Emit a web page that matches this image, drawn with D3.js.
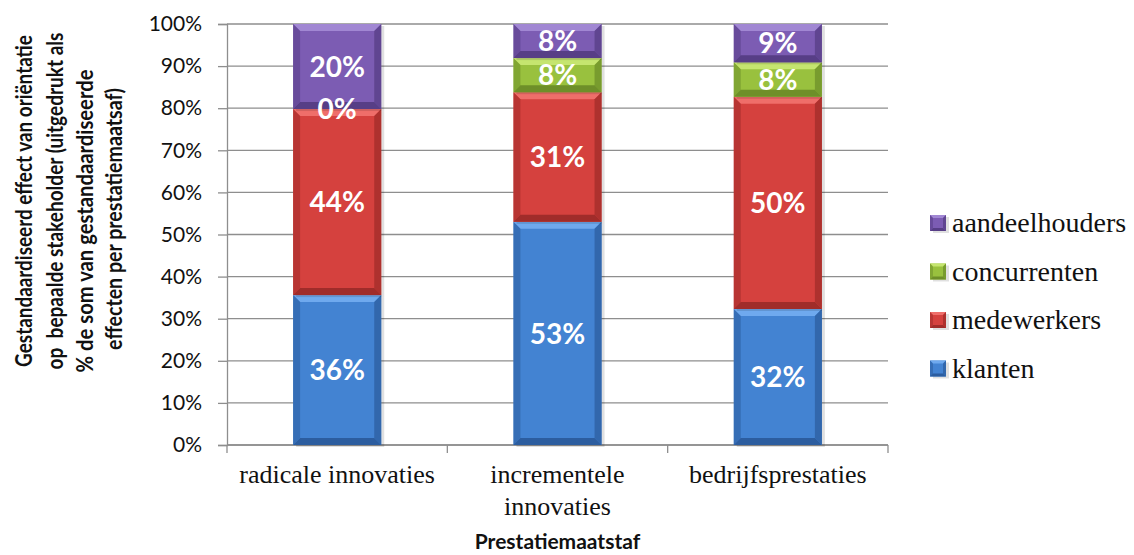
<!DOCTYPE html>
<html>
<head>
<meta charset="utf-8">
<script src="https://cdn.jsdelivr.net/npm/d3@7"></script>
<style>
  html, body { margin: 0; padding: 0; background: #fff; }
  svg { display: block; }
  .serif { font-family: "Liberation Serif", Tinos, "Times New Roman", "DejaVu Serif", serif; }
  .sans { font-family: Lato, "Open Sans", sans-serif; }
</style>
</head>
<body>
<div id="chart"></div>
<script>
// chart data
const categories = ["radicale innovaties", "incrementele innovaties", "bedrijfsprestaties"];
const categoryLines = [["radicale innovaties"], ["incrementele", "innovaties"], ["bedrijfsprestaties"]];
const seriesNames = ["klanten", "medewerkers", "concurrenten", "aandeelhouders"];
const klanten = [35.6, 53.0, 32.3];
const medewerkers = [44.2, 30.8, 50.4];
const concurrenten = [0, 8.1, 8.2];
const aandeelhouders = [20.2, 8.1, 9.1];
const yTicks = [0, 10, 20, 30, 40, 50, 60, 70, 80, 90, 100];
const yTitleLines = [
  "Gestandaardiseerd effect van oriëntatie",
  "op  bepaalde stakeholder (uitgedrukt als",
  "% de som van gestandaardiseerde",
  "effecten per prestatiemaatsaf)"
];
const xTitle = "Prestatiemaatstaf";

// colours per series: face, light bevel, dark bevel
const colors = {
  klanten:        { face: "#4383d2", light: "#6fa9ee", dark: "#2c5d9f" },
  medewerkers:    { face: "#d5413e", light: "#ef6e6a", dark: "#a02c2a" },
  concurrenten:   { face: "#99c13e", light: "#c5e56f", dark: "#6e8f29" },
  aandeelhouders: { face: "#7c5cb3", light: "#a187d3", dark: "#573e86" }
};

const W = 1134, H = 555;
const plot = { left: 227, right: 888, top: 24, bottom: 445 };

const svg = d3.select("#chart").append("svg")
  .attr("width", W).attr("height", H);

const x = d3.scaleBand()
  .domain(categories)
  .range([plot.left, plot.right])
  .paddingInner(0.6)
  .paddingOuter(0.3);

const y = d3.scaleLinear()
  .domain([0, 100])
  .range([plot.bottom, plot.top]);

// rows for d3.stack
const rows = categories.map((c, i) => ({
  cat: c,
  klanten: klanten[i],
  medewerkers: medewerkers[i],
  concurrenten: concurrenten[i],
  aandeelhouders: aandeelhouders[i]
}));
const stacked = d3.stack().keys(seriesNames)(rows);

// gridlines
svg.append("g")
  .selectAll("line")
  .data(yTicks)
  .join("line")
  .attr("x1", plot.left).attr("x2", plot.right)
  .attr("y1", d => y(d)).attr("y2", d => y(d))
  .attr("stroke", "#8e8e8e").attr("stroke-width", 1.3);

// y axis
const yAxis = svg.append("g")
  .attr("transform", `translate(${plot.left},0)`)
  .call(d3.axisLeft(y).tickValues(yTicks).tickSize(9).tickPadding(16).tickFormat(d => d + "%"));
yAxis.attr("font-family", null);
yAxis.select(".domain").attr("stroke", "#8e8e8e").attr("stroke-width", 1.3);
yAxis.selectAll(".tick line").attr("stroke", "#8e8e8e").attr("stroke-width", 1.3);
yAxis.selectAll(".tick text")
  .attr("class", "sans")
  .attr("font-size", 21)
  .attr("fill", "#111");

// x axis line with ticks on band boundaries
const xg = svg.append("g");
xg.append("line")
  .attr("x1", plot.left).attr("x2", plot.right)
  .attr("y1", plot.bottom).attr("y2", plot.bottom)
  .attr("stroke", "#8e8e8e").attr("stroke-width", 1.3);
xg.selectAll("line.xt")
  .data(d3.range(categories.length + 1))
  .join("line")
  .attr("class", "xt")
  .attr("x1", i => plot.left + i * x.step())
  .attr("x2", i => plot.left + i * x.step())
  .attr("y1", plot.bottom).attr("y2", plot.bottom + 8)
  .attr("stroke", "#8e8e8e").attr("stroke-width", 1.3);

// bevelled bar segment
function bevel(g, x0, x1, y0, y1, c, b0) {
  const h = y1 - y0;
  if (h <= 0) return;
  const b = Math.min(b0 || 7, h / 2);
  g.append("rect")
    .attr("x", x0 + 3).attr("y", y0 + 2)
    .attr("width", x1 - x0).attr("height", h)
    .attr("fill", "#000").attr("opacity", 0.12);
  g.append("rect")
    .attr("x", x0).attr("y", y0).attr("width", x1 - x0).attr("height", h)
    .attr("fill", c.face);
  const poly = pts => g.append("polygon").attr("points", pts.map(p => p.join(",")).join(" "));
  poly([[x0, y0], [x1, y0], [x1 - b, y0 + b], [x0 + b, y0 + b]]).attr("fill", c.light);
  poly([[x0, y1], [x1, y1], [x1 - b, y1 - b], [x0 + b, y1 - b]]).attr("fill", c.dark);
  poly([[x0, y0], [x0 + b, y0 + b], [x0 + b, y1 - b], [x0, y1]]).attr("fill", c.dark).attr("opacity", 0.55);
  poly([[x1, y0], [x1 - b, y0 + b], [x1 - b, y1 - b], [x1, y1]]).attr("fill", c.dark).attr("opacity", 0.75);
}

const barsG = svg.append("g");
stacked.forEach(layer => {
  const c = colors[layer.key];
  layer.forEach(d => {
    const x0 = x(d.data.cat), x1 = x0 + x.bandwidth();
    bevel(barsG, x0, x1, y(d[1]), y(d[0]), c);
  });
});

// value labels
const labelsG = svg.append("g");
stacked.forEach(layer => {
  labelsG.selectAll(null)
    .data(layer)
    .join("text")
    .attr("class", "sans")
    .attr("x", d => x(d.data.cat) + x.bandwidth() / 2)
    .attr("y", d => (y(d[0]) + y(d[1])) / 2)
    .attr("dy", "0.36em")
    .attr("text-anchor", "middle")
    .attr("font-weight", "bold")
    .attr("font-size", 28)
    .attr("fill", "#fff")
    .text(d => Math.round(d[1] - d[0]) + "%");
});

// category labels
categories.forEach((c, i) => {
  const t = svg.append("text")
    .attr("class", "serif")
    .attr("text-anchor", "middle")
    .attr("font-size", 26)
    .attr("fill", "#111");
  categoryLines[i].forEach((line, k) => {
    t.append("tspan")
      .attr("x", x(c) + x.bandwidth() / 2)
      .attr("y", 483 + k * 32)
      .text(line);
  });
});

// x title
svg.append("text")
  .attr("class", "sans")
  .attr("x", (plot.left + plot.right) / 2)
  .attr("y", 549)
  .attr("text-anchor", "middle")
  .attr("font-weight", "bold")
  .attr("font-size", 21)
  .attr("fill", "#111")
  .text(xTitle);

// y title (four rotated lines, squeezed to the reference length)
const yBase = [32, 63, 93, 122];
const yMid = [201, 201, 221, 219];
const yLen = [332, 337, 303, 262];
yTitleLines.forEach((line, i) => {
  const t = svg.append("text")
    .attr("class", "sans")
    .attr("text-anchor", "middle")
    .attr("font-weight", "bold")
    .attr("font-size", 22)
    .attr("fill", "#111")
    .style("white-space", "pre")
    .text(line);
  const k = yLen[i] / t.node().getComputedTextLength();
  t.attr("transform", `translate(${yBase[i]},${yMid[i]}) rotate(-90) scale(${k},1)`);
});

// legend (top = aandeelhouders)
const legendOrder = seriesNames.slice().reverse();
const legend = svg.append("g");
legendOrder.forEach((name, i) => {
  const cy = 223 + i * 48.5;
  bevel(legend, 930, 946, cy - 8, cy + 8, colors[name], 3);
  legend.append("text")
    .attr("class", "serif")
    .attr("x", 952)
    .attr("y", cy)
    .attr("dy", "0.33em")
    .attr("font-size", 28)
    .attr("fill", "#111")
    .text(name);
});
</script>
</body>
</html>
